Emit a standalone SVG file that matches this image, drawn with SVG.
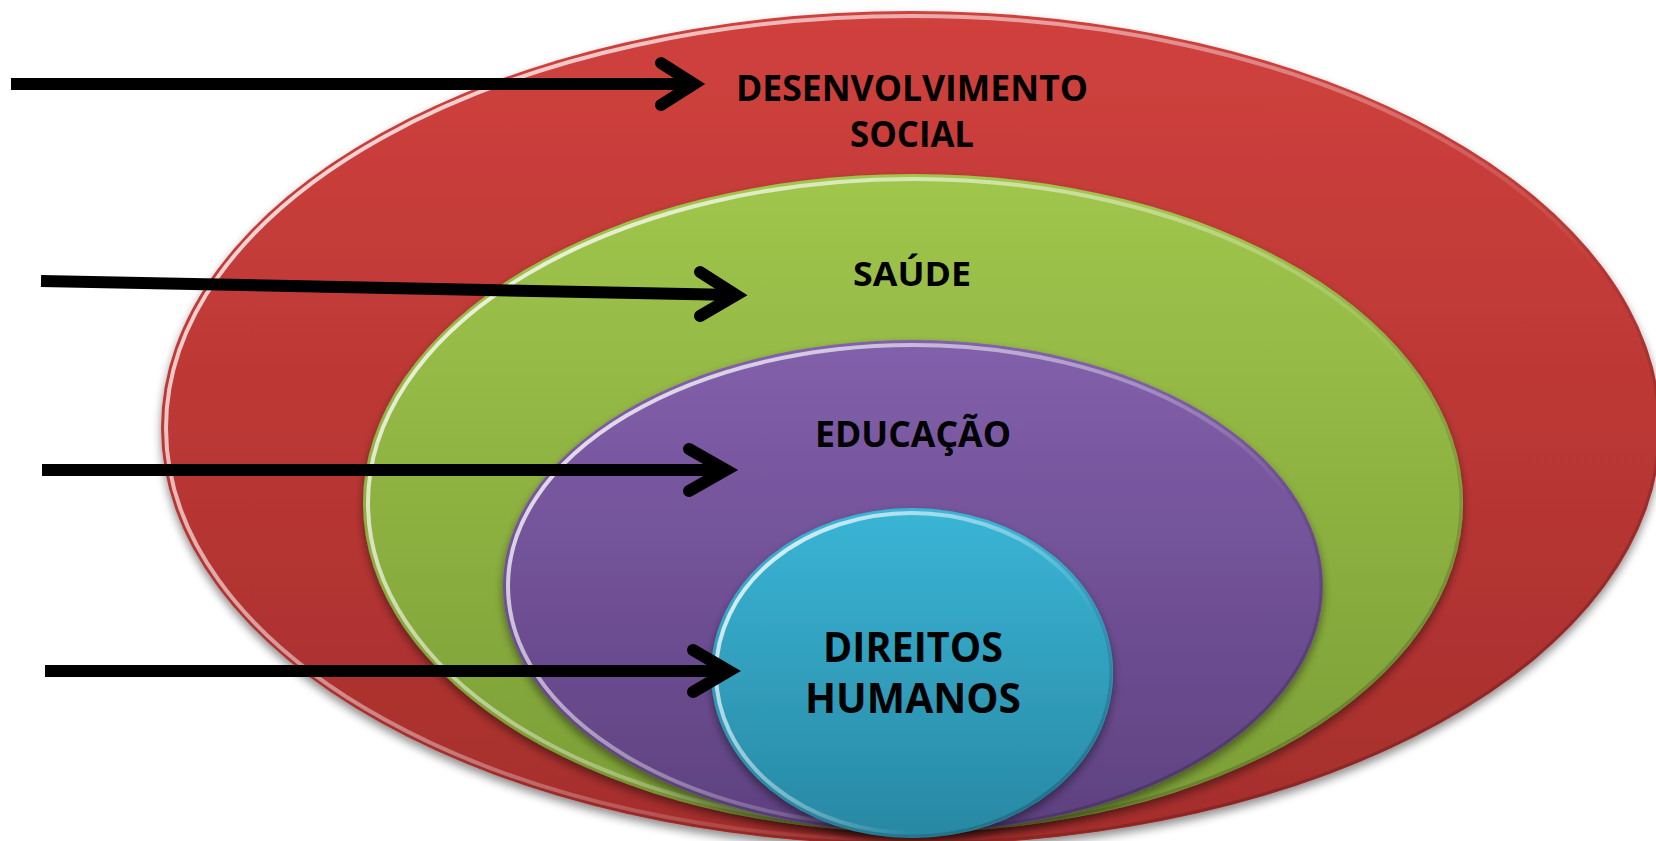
<svg xmlns="http://www.w3.org/2000/svg" width="1656" height="841" viewBox="0 0 1656 841">
  <defs>
    <linearGradient id="gRed" x1="0" y1="0" x2="0" y2="1">
      <stop offset="0" stop-color="#d0413d"/>
      <stop offset="1" stop-color="#a52e2c"/>
    </linearGradient>
    <linearGradient id="gGreen" x1="0" y1="0" x2="0" y2="1">
      <stop offset="0" stop-color="#a0c64c"/>
      <stop offset="1" stop-color="#7b9d36"/>
    </linearGradient>
    <linearGradient id="gPurple" x1="0" y1="0" x2="0" y2="1">
      <stop offset="0" stop-color="#8260ab"/>
      <stop offset="1" stop-color="#5e4180"/>
    </linearGradient>
    <linearGradient id="gCyan" x1="0" y1="0" x2="0" y2="1">
      <stop offset="0" stop-color="#3ab5d6"/>
      <stop offset="1" stop-color="#2888a3"/>
    </linearGradient>
    <linearGradient id="rim" x1="0" y1="0.2" x2="0.9" y2="0.8">
      <stop offset="0" stop-color="#ffffff" stop-opacity="0.85"/>
      <stop offset="0.5" stop-color="#ffffff" stop-opacity="0.35"/>
      <stop offset="0.8" stop-color="#ffffff" stop-opacity="0"/>
    </linearGradient>
    <linearGradient id="rimDark" x1="0" y1="0" x2="1" y2="1">
      <stop offset="0.45" stop-color="#000000" stop-opacity="0"/>
      <stop offset="1" stop-color="#000000" stop-opacity="0.25"/>
    </linearGradient>
    <filter id="shadow" x="-10%" y="-10%" width="120%" height="130%">
      <feGaussianBlur in="SourceAlpha" stdDeviation="5"/>
      <feOffset dx="0" dy="5" result="b"/>
      <feComponentTransfer><feFuncA type="linear" slope="0.45"/></feComponentTransfer>
      <feMerge><feMergeNode/><feMergeNode in="SourceGraphic"/></feMerge>
    </filter>
    <style>
      .lbl { font-family: "Open Sans", "Liberation Sans", sans-serif; font-weight: bold; fill: #000; text-anchor: middle; }
      .rimL { fill: none; stroke: url(#rim); stroke-width: 4; }
      .rimD { fill: none; stroke: url(#rimDark); stroke-width: 3; }
      .shaft { fill: none; stroke: #000; stroke-width: 12; stroke-linecap: butt; }
      .head { fill: none; stroke: #000; stroke-width: 12; stroke-linecap: round; stroke-linejoin: miter; stroke-miterlimit: 10; }
    </style>
  </defs>

  <rect width="1656" height="841" fill="#ffffff"/>

  <g id="desenvolvimento-social">
    <ellipse cx="911" cy="428" rx="750" ry="417" fill="url(#gRed)" filter="url(#shadow)"/>
    <ellipse class="rimL" cx="911" cy="428" rx="745" ry="412"/>
    <ellipse class="rimD" cx="911" cy="428" rx="748" ry="415"/>
    <text class="lbl" x="912" y="101" font-size="36" textLength="352" lengthAdjust="spacingAndGlyphs">DESENVOLVIMENTO</text>
    <text class="lbl" x="912" y="147" font-size="36" textLength="124" lengthAdjust="spacingAndGlyphs">SOCIAL</text>
  </g>

  <g id="saude">
    <ellipse cx="913" cy="503" rx="550" ry="329" fill="url(#gGreen)" filter="url(#shadow)"/>
    <ellipse class="rimL" cx="913" cy="503" rx="545" ry="324"/>
    <ellipse class="rimD" cx="913" cy="503" rx="548" ry="327"/>
    <text class="lbl" x="912" y="286" font-size="34" textLength="118" lengthAdjust="spacingAndGlyphs">SAÚDE</text>
  </g>

  <g id="educacao">
    <ellipse cx="913" cy="586" rx="410" ry="246" fill="url(#gPurple)" filter="url(#shadow)"/>
    <ellipse class="rimL" cx="913" cy="586" rx="405" ry="241"/>
    <ellipse class="rimD" cx="913" cy="586" rx="408" ry="244"/>
    <text class="lbl" x="913" y="447" font-size="35" textLength="196" lengthAdjust="spacingAndGlyphs">EDUCAÇÃO</text>
  </g>

  <g id="direitos-humanos">
    <ellipse cx="912" cy="673" rx="201" ry="165" fill="url(#gCyan)" filter="url(#shadow)"/>
    <ellipse class="rimL" cx="912" cy="673" rx="196" ry="160"/>
    <ellipse class="rimD" cx="912" cy="673" rx="199" ry="163"/>
    <text class="lbl" x="913" y="662" font-size="41" textLength="180" lengthAdjust="spacingAndGlyphs">DIREITOS</text>
    <text class="lbl" x="913" y="713" font-size="41" textLength="216" lengthAdjust="spacingAndGlyphs">HUMANOS</text>
  </g>

  <g id="connectors">
    <path class="shaft" d="M11 84 L694 84"/>
    <path class="head" d="M661 63 L694 84 L661 105"/>

    <path class="shaft" d="M41 281 L736 295"/>
    <path class="head" d="M700 272 L736 295 L700 316"/>

    <path class="shaft" d="M42 470 L726 470"/>
    <path class="head" d="M689 449 L726 470 L689 491"/>

    <path class="shaft" d="M45 671 L729 671"/>
    <path class="head" d="M693 650 L729 671 L693 692"/>
  </g>
</svg>
